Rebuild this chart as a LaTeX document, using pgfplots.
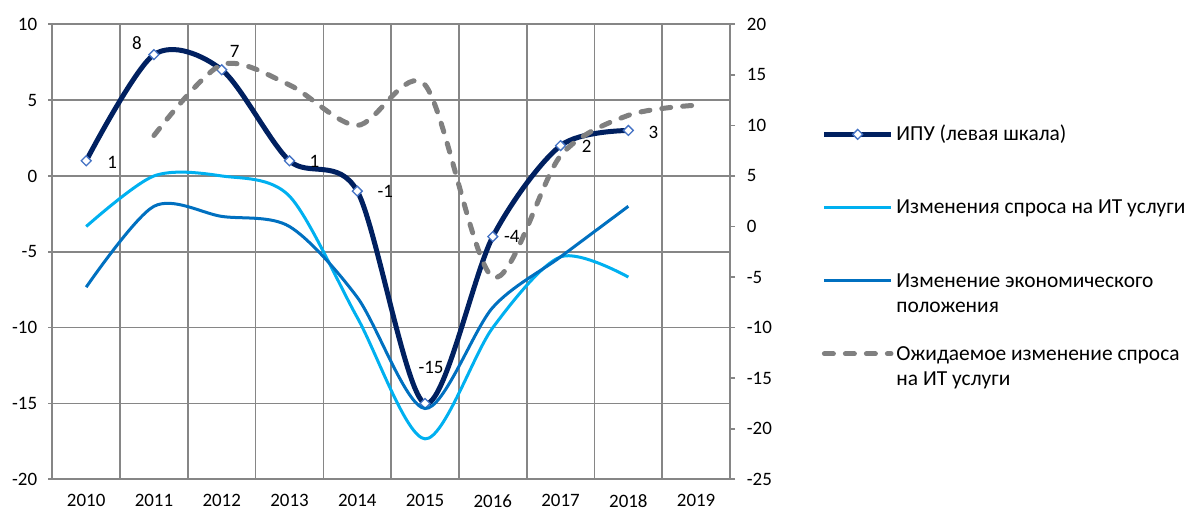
\documentclass[border=0pt]{standalone}
\usepackage{pgfplots}
\usepackage{pgfplotstable}
\pgfplotsset{compat=1.18}
\usepackage{fontspec}
\setmainfont{Carlito}
\definecolor{ipu}{HTML}{002060}
\definecolor{lb}{HTML}{00B0F0}
\definecolor{mb}{HTML}{0070C0}
\definecolor{gridc}{HTML}{868686}
\definecolor{mk}{HTML}{4472C4}
\definecolor{dashc}{HTML}{808080}

\pgfplotstableread{
x y lx ly
0 1 26 -2
1 8 -17 12
2 7 13 18
3 1 25 -1
4 -1 28 0
5 -15 6 36
6 -4 19 0
7 2 26 -1
8 3 25 -2
}\ipudata

\pgfplotstableread{
x lb mb
0 0 -6
1 5 2
2 5 1
3 3 0
4 -9 -7
5 -21 -18
6 -10 -8
7 -3 -3
8 -5 2
}\rightdata

\pgfplotstableread{
x y
1 9
2 16
3 14
4 10
5 14
6 -5
7 7
8 11
9 12
}\dashdata

\newcommand{\tf}{\fontsize{19}{22}\selectfont}
\newcommand{\lf}{\fontsize{21.5}{25}\selectfont}

\begin{document}
\begin{tikzpicture}
\useasboundingbox (0,0) rectangle (1189bp,510bp);
\pgfplotsset{
  common/.style={
    at={(52.3bp,30.7bp)}, anchor=south west,
    width=677.7bp, height=455bp, scale only axis,
    xmin=-0.5, xmax=9.5,
    /pgf/number format/assume math mode=true,
    tick label style={font=\tf, text=black},
  }
}
\begin{axis}[common,
  ymin=-20, ymax=10,
  xtick={0,...,9},
  xticklabels={2010,2011,2012,2013,2014,2015,2016,2017,2018,2019},
  minor xtick={-0.5,0.5,1.5,2.5,3.5,4.5,5.5,6.5,7.5,8.5,9.5},
  ytick={-20,-15,...,10},
  xmajorgrids=false, xminorgrids=true, ymajorgrids=true,
  grid style={gridc, line width=1.7bp},
  minor grid style={gridc, line width=1.7bp},
  axis line style={gridc, line width=1.7bp},
  xtick style={draw=none},
  minor tick length=0pt,
  ytick align=outside, ytick pos=left,
  major tick length=4bp,
  ytick style={gridc, line width=1.7bp},
  yticklabel style={inner sep=0pt, anchor=east, xshift=-11bp},
  xticklabel style={inner sep=0pt, anchor=north, yshift=-14.8bp},
]
\addplot[ipu, line width=5bp, smooth, tension=0.5,
  mark=square*, mark size=3.5bp,
  mark options={rotate=45, fill=white, draw=mk, line width=1.3bp, solid},
  nodes near coords, point meta=explicit,
  visualization depends on={\thisrow{lx} \as \lx},
  visualization depends on={\thisrow{ly} \as \ly},
  every node near coord/.append style={anchor=center, xshift=\lx bp, yshift=\ly bp, font=\tf, text=black, inner sep=0pt},
] table[x=x, y=y, meta=y] {\ipudata};
\end{axis}
\begin{axis}[common,
  ymin=-25, ymax=20,
  axis y line*=right, axis x line=none,
  ytick={-25,-20,...,20},
  ytick align=outside, major tick length=5bp,
  ytick style={gridc, line width=1.7bp},
  axis line style={gridc, line width=1.7bp},
  yticklabel style={inner sep=0pt, anchor=west, xshift=11.7bp},
  legend image code/.code={\draw[mark repeat=2,mark phase=2,#1] plot coordinates {(0bp,31.4bp)(33.3bp,31.4bp)(66.6bp,31.4bp)};},
  legend style={at={(axis description cs:1.1353,0.7826)}, anchor=north west, draw=none, fill=none, inner sep=0pt, row sep=29.3bp, column sep=3bp, nodes={inner sep=0pt, anchor=base west}},
  legend cell align=left,
]
\addlegendimage{ipu, line width=5bp, mark=square*, mark size=3.5bp, mark options={rotate=45, fill=white, draw=mk, line width=1.3bp, solid}}
\addlegendentry{\parbox[b]{300bp}{\lf\strut ИПУ (левая шкала)\\\strut}}
\addplot[lb, line width=3bp, smooth, tension=0.5] table[x=x, y=lb] {\rightdata};
\addlegendentry{\parbox[b]{300bp}{\lf\strut Изменения спроса на ИТ услуги\\\strut}}
\addplot[mb, line width=3bp, smooth, tension=0.5] table[x=x, y=mb] {\rightdata};
\addlegendentry{\parbox[b]{300bp}{\lf\strut Изменение экономического\\\strut положения}}
\addplot[dashc, line width=5bp, smooth, tension=0.5, line cap=round, dash pattern=on 9bp off 12bp] table[x=x, y=y] {\dashdata};
\addlegendentry{\parbox[b]{300bp}{\lf\strut Ожидаемое изменение спроса\\\strut на ИТ услуги}}
\end{axis}
\end{tikzpicture}
\end{document}
